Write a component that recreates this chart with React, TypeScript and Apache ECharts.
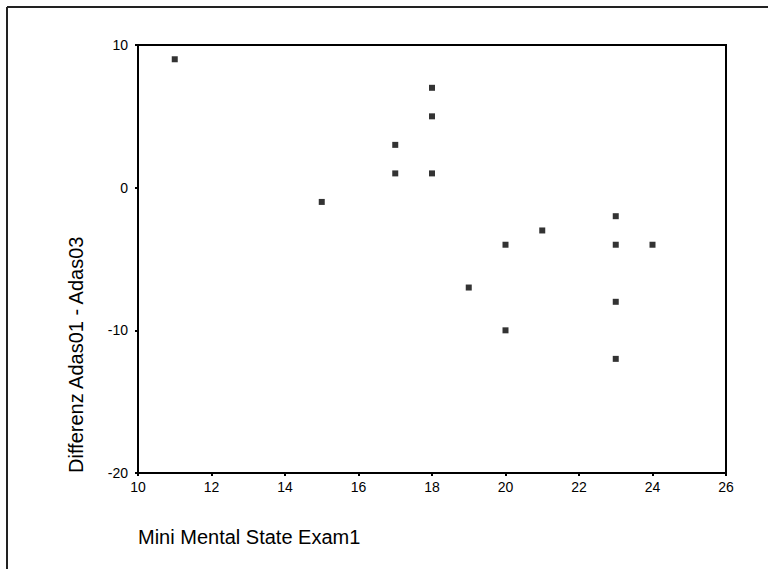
import React, { useEffect, useRef } from "react";
import * as echarts from "echarts";

const mmseValues = [11, 15, 17, 17, 18, 18, 18, 19, 20, 20, 21, 23, 23, 23, 23, 24];
const adasDiffValues = [9, -1, 3, 1, 7, 5, 1, -7, -4, -10, -3, -2, -4, -8, -12, -4];
const xAxisTitle = "Mini Mental State Exam1";
const yAxisTitle = "Differenz Adas01 - Adas03";

export default function App() {
  const ref = useRef<HTMLDivElement>(null);
  useEffect(() => {
    if (!ref.current) return;
    const chart = echarts.init(ref.current, null, { renderer: "svg" });
    const points = mmseValues.map((x, i) => [x, adasDiffValues[i]]);
    const font = "Arial, 'Liberation Sans', sans-serif";
    chart.setOption({
      animation: false,
      backgroundColor: "#fff",
      grid: {
        left: 138,
        top: 45,
        right: 42,
        bottom: 96,
        show: true,
        borderColor: "#000",
        borderWidth: 2,
        containLabel: false,
      },
      xAxis: {
        type: "value",
        min: 10,
        max: 26,
        interval: 2,
        name: xAxisTitle,
        nameLocation: "start",
        nameGap: 0,
        nameTextStyle: {
          fontFamily: font,
          fontSize: 20,
          color: "#000",
          align: "left",
          verticalAlign: "top",
          padding: [54, 0, 0, 0],
        },
        axisLine: { show: true, onZero: false, lineStyle: { color: "#000", width: 2 } },
        axisTick: { show: true, length: 3, lineStyle: { color: "#000", width: 2 } },
        axisLabel: { fontFamily: font, fontSize: 14, color: "#000", margin: 7 },
        splitLine: { show: false },
      },
      yAxis: {
        type: "value",
        min: -20,
        max: 10,
        interval: 10,
        name: yAxisTitle,
        nameLocation: "start",
        nameGap: 0,
        nameRotate: 90,
        nameTextStyle: {
          fontFamily: font,
          fontSize: 20,
          color: "#000",
          align: "left",
          verticalAlign: "bottom",
          padding: [0, 0, 52, 0],
        },
        axisLine: { show: true, onZero: false, lineStyle: { color: "#000", width: 2 } },
        axisTick: { show: true, length: 3, lineStyle: { color: "#000", width: 2 } },
        axisLabel: { fontFamily: font, fontSize: 14, color: "#000", margin: 10 },
        splitLine: { show: false },
      },
      graphic: [
        {
          type: "line",
          shape: { x1: 7, y1: 7, x2: 768, y2: 7 },
          style: { stroke: "#222", lineWidth: 2 },
        },
        {
          type: "line",
          shape: { x1: 7, y1: 7, x2: 7, y2: 569 },
          style: { stroke: "#222", lineWidth: 2 },
        },
      ],
      series: [
        {
          type: "scatter",
          data: points,
          symbol: "rect",
          symbolSize: 6,
          itemStyle: { color: "#000" },
        },
      ],
    });
    return () => chart.dispose();
  }, []);
  return (
    <div
      ref={ref}
      style={{ position: "fixed", left: 0, top: 0, width: 768, height: 569 }}
    />
  );
}
